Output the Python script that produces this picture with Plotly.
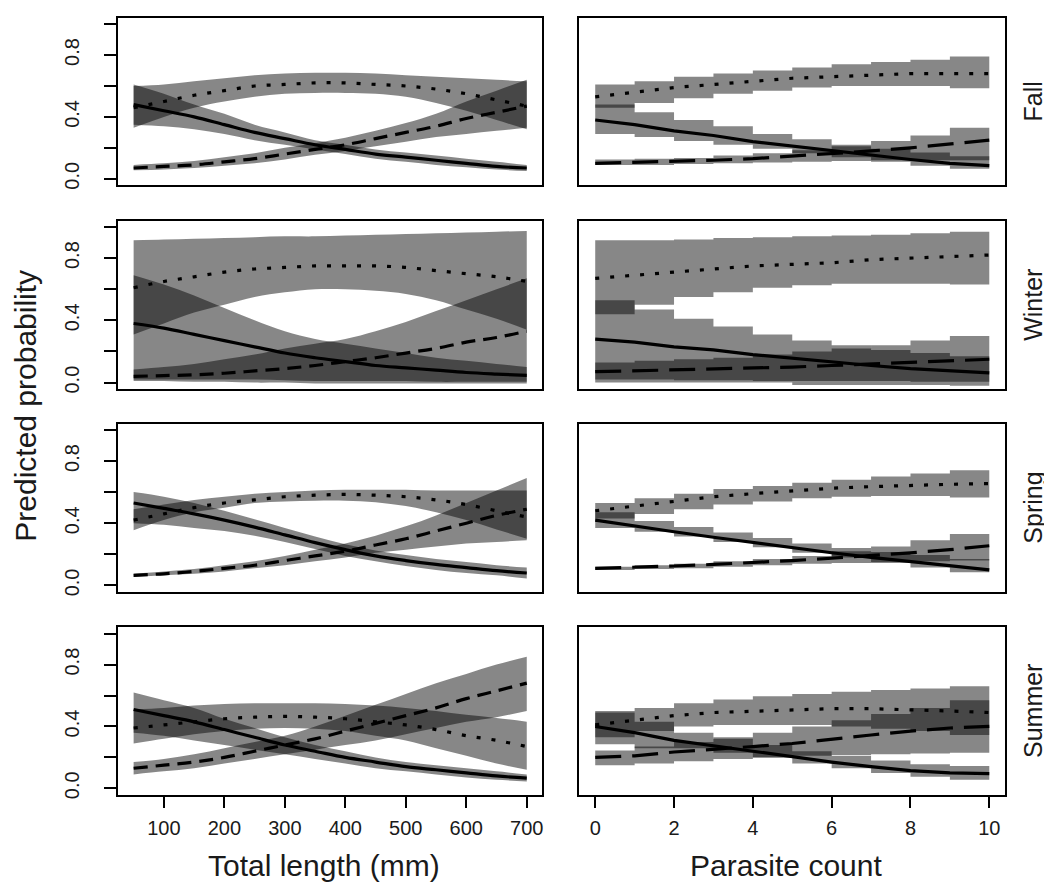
import plotly.graph_objects as go
from plotly.subplots import make_subplots

# ---------------- data ----------------
length_x = [50, 100, 150, 200, 250, 300, 350, 400, 450, 500, 550, 600, 650, 700]
count_x = [0, 1, 2, 3, 4, 5, 6, 7, 8, 9, 10]
length_ticks = [100, 200, 300, 400, 500, 600, 700]
count_ticks = [0, 2, 4, 6, 8, 10]
prob_ticks = [0.0, 0.2, 0.4, 0.6, 0.8, 1.0]
prob_ticktext = ["0.0", "", "0.4", "", "0.8", ""]
seasons = ["Fall", "Winter", "Spring", "Summer"]
x_titles = ["Total length (mm)", "Parasite count"]
y_title = "Predicted probability"

# Fall - total length
fall_len_solid = [0.48, 0.44, 0.40, 0.35, 0.30, 0.26, 0.22, 0.19, 0.16, 0.14, 0.12, 0.10, 0.08, 0.07]
fall_len_solid_lo = [0.35, 0.34, 0.32, 0.29, 0.25, 0.22, 0.19, 0.16, 0.13, 0.11, 0.09, 0.075, 0.06, 0.05]
fall_len_solid_hi = [0.61, 0.55, 0.48, 0.42, 0.35, 0.30, 0.25, 0.22, 0.19, 0.17, 0.15, 0.13, 0.11, 0.09]
fall_len_dash = [0.07, 0.08, 0.09, 0.11, 0.13, 0.16, 0.19, 0.22, 0.26, 0.30, 0.34, 0.39, 0.43, 0.47]
fall_len_dash_lo = [0.055, 0.06, 0.07, 0.085, 0.10, 0.125, 0.155, 0.18, 0.21, 0.24, 0.27, 0.29, 0.31, 0.33]
fall_len_dash_hi = [0.09, 0.10, 0.115, 0.14, 0.165, 0.20, 0.23, 0.265, 0.31, 0.36, 0.42, 0.50, 0.57, 0.64]
fall_len_dot = [0.46, 0.50, 0.54, 0.57, 0.60, 0.61, 0.62, 0.62, 0.61, 0.60, 0.58, 0.55, 0.51, 0.47]
fall_len_dot_lo = [0.33, 0.40, 0.46, 0.50, 0.53, 0.55, 0.555, 0.555, 0.55, 0.53, 0.49, 0.44, 0.38, 0.32]
fall_len_dot_hi = [0.60, 0.61, 0.63, 0.65, 0.67, 0.68, 0.685, 0.685, 0.68, 0.67, 0.66, 0.65, 0.64, 0.63]

# Fall - parasite count
fall_cnt_solid = [0.38, 0.35, 0.31, 0.28, 0.24, 0.21, 0.18, 0.15, 0.125, 0.10, 0.085]
fall_cnt_solid_lo = [0.29, 0.27, 0.245, 0.22, 0.195, 0.165, 0.14, 0.11, 0.085, 0.065, 0.045]
fall_cnt_solid_hi = [0.48, 0.43, 0.38, 0.34, 0.29, 0.255, 0.22, 0.195, 0.17, 0.145, 0.13]
fall_cnt_dash = [0.10, 0.105, 0.11, 0.12, 0.13, 0.145, 0.16, 0.18, 0.20, 0.225, 0.25]
fall_cnt_dash_lo = [0.09, 0.09, 0.095, 0.10, 0.105, 0.11, 0.115, 0.12, 0.12, 0.12, 0.12]
fall_cnt_dash_hi = [0.125, 0.13, 0.135, 0.15, 0.165, 0.185, 0.21, 0.245, 0.28, 0.33, 0.39]
fall_cnt_dot = [0.53, 0.56, 0.59, 0.61, 0.63, 0.65, 0.66, 0.67, 0.68, 0.68, 0.68]
fall_cnt_dot_lo = [0.46, 0.49, 0.52, 0.55, 0.57, 0.59, 0.60, 0.60, 0.60, 0.585, 0.55]
fall_cnt_dot_hi = [0.61, 0.63, 0.66, 0.68, 0.70, 0.72, 0.74, 0.755, 0.77, 0.79, 0.80]

# Winter - total length
winter_len_solid = [0.38, 0.35, 0.31, 0.27, 0.23, 0.19, 0.16, 0.135, 0.11, 0.095, 0.08, 0.065, 0.055, 0.047]
winter_len_solid_lo = [0.02, 0.02, 0.02, 0.02, 0.02, 0.015, 0.01, 0.01, 0.01, 0.01, 0.005, 0.005, 0.005, 0.005]
winter_len_solid_hi = [0.69, 0.63, 0.56, 0.48, 0.40, 0.33, 0.28, 0.25, 0.22, 0.19, 0.16, 0.14, 0.12, 0.10]
winter_len_dash = [0.04, 0.045, 0.05, 0.06, 0.075, 0.09, 0.11, 0.135, 0.16, 0.19, 0.22, 0.26, 0.29, 0.33]
winter_len_dash_lo = [0.01, 0.01, 0.005, 0.005, 0.0, 0.0, -0.005, -0.005, -0.005, -0.005, -0.005, -0.005, -0.005, -0.005]
winter_len_dash_hi = [0.085, 0.10, 0.12, 0.15, 0.18, 0.22, 0.25, 0.28, 0.33, 0.39, 0.46, 0.53, 0.60, 0.67]
winter_len_dot = [0.61, 0.65, 0.68, 0.71, 0.73, 0.74, 0.75, 0.75, 0.75, 0.74, 0.72, 0.70, 0.68, 0.65]
winter_len_dot_lo = [0.31, 0.38, 0.45, 0.50, 0.55, 0.58, 0.60, 0.60, 0.59, 0.57, 0.53, 0.47, 0.41, 0.34]
winter_len_dot_hi = [0.915, 0.92, 0.925, 0.93, 0.935, 0.94, 0.94, 0.945, 0.95, 0.955, 0.96, 0.965, 0.97, 0.975]

# Winter - parasite count
winter_cnt_solid = [0.28, 0.26, 0.23, 0.21, 0.18, 0.155, 0.13, 0.11, 0.09, 0.075, 0.062]
winter_cnt_solid_lo = [0.02, 0.02, 0.015, 0.015, 0.01, 0.01, 0.01, 0.01, 0.005, 0.005, 0.005]
winter_cnt_solid_hi = [0.53, 0.47, 0.41, 0.36, 0.31, 0.27, 0.24, 0.21, 0.19, 0.17, 0.15]
winter_cnt_dash = [0.07, 0.075, 0.08, 0.085, 0.09, 0.10, 0.11, 0.12, 0.13, 0.14, 0.15]
winter_cnt_dash_lo = [0.0, 0.0, 0.0, 0.0, 0.0, -0.015, -0.015, -0.015, -0.015, -0.02, -0.02]
winter_cnt_dash_hi = [0.13, 0.14, 0.15, 0.16, 0.18, 0.20, 0.22, 0.24, 0.27, 0.30, 0.34]
winter_cnt_dot = [0.67, 0.69, 0.71, 0.73, 0.75, 0.76, 0.77, 0.79, 0.80, 0.81, 0.82]
winter_cnt_dot_lo = [0.44, 0.50, 0.55, 0.58, 0.61, 0.625, 0.635, 0.635, 0.635, 0.63, 0.63]
winter_cnt_dot_hi = [0.915, 0.915, 0.92, 0.93, 0.935, 0.94, 0.945, 0.95, 0.96, 0.97, 0.975]

# Spring - total length
spring_len_solid = [0.53, 0.495, 0.46, 0.42, 0.375, 0.325, 0.275, 0.23, 0.19, 0.16, 0.135, 0.115, 0.095, 0.08]
spring_len_solid_lo = [0.40, 0.39, 0.37, 0.35, 0.32, 0.28, 0.235, 0.19, 0.155, 0.125, 0.10, 0.08, 0.065, 0.045]
spring_len_solid_hi = [0.60, 0.57, 0.53, 0.48, 0.425, 0.37, 0.315, 0.265, 0.225, 0.195, 0.17, 0.15, 0.13, 0.115]
spring_len_dash = [0.065, 0.075, 0.09, 0.11, 0.13, 0.16, 0.19, 0.22, 0.26, 0.30, 0.35, 0.40, 0.45, 0.49]
spring_len_dash_lo = [0.055, 0.065, 0.075, 0.09, 0.11, 0.13, 0.155, 0.18, 0.21, 0.23, 0.25, 0.27, 0.28, 0.29]
spring_len_dash_hi = [0.075, 0.09, 0.105, 0.13, 0.155, 0.19, 0.23, 0.27, 0.32, 0.38, 0.45, 0.53, 0.61, 0.69]
spring_len_dot = [0.42, 0.46, 0.50, 0.53, 0.55, 0.57, 0.58, 0.585, 0.58, 0.57, 0.55, 0.52, 0.48, 0.44]
spring_len_dot_lo = [0.355, 0.42, 0.47, 0.50, 0.53, 0.54, 0.545, 0.545, 0.535, 0.51, 0.47, 0.42, 0.36, 0.30]
spring_len_dot_hi = [0.49, 0.52, 0.55, 0.57, 0.59, 0.60, 0.61, 0.615, 0.615, 0.615, 0.61, 0.61, 0.61, 0.61]

# Spring - parasite count
spring_cnt_solid = [0.42, 0.38, 0.345, 0.31, 0.275, 0.24, 0.21, 0.18, 0.155, 0.125, 0.10]
spring_cnt_solid_lo = [0.37, 0.345, 0.315, 0.28, 0.245, 0.21, 0.18, 0.145, 0.115, 0.085, 0.05]
spring_cnt_solid_hi = [0.47, 0.415, 0.375, 0.34, 0.305, 0.27, 0.24, 0.215, 0.195, 0.17, 0.15]
spring_cnt_dash = [0.11, 0.115, 0.125, 0.135, 0.145, 0.16, 0.175, 0.19, 0.21, 0.23, 0.255]
spring_cnt_dash_lo = [0.10, 0.105, 0.11, 0.12, 0.13, 0.14, 0.145, 0.15, 0.155, 0.16, 0.16]
spring_cnt_dash_hi = [0.12, 0.13, 0.14, 0.155, 0.17, 0.19, 0.22, 0.25, 0.29, 0.33, 0.375]
spring_cnt_dot = [0.48, 0.51, 0.54, 0.57, 0.59, 0.61, 0.625, 0.635, 0.645, 0.65, 0.655]
spring_cnt_dot_lo = [0.43, 0.46, 0.49, 0.52, 0.54, 0.56, 0.57, 0.575, 0.575, 0.565, 0.55]
spring_cnt_dot_hi = [0.53, 0.56, 0.59, 0.62, 0.64, 0.66, 0.68, 0.70, 0.72, 0.74, 0.76]

# Summer - total length
summer_len_solid = [0.51, 0.47, 0.43, 0.38, 0.33, 0.28, 0.24, 0.20, 0.17, 0.14, 0.12, 0.10, 0.08, 0.066]
summer_len_solid_lo = [0.36, 0.34, 0.31, 0.28, 0.25, 0.22, 0.19, 0.16, 0.13, 0.11, 0.09, 0.07, 0.055, 0.045]
summer_len_solid_hi = [0.62, 0.57, 0.52, 0.45, 0.39, 0.33, 0.28, 0.24, 0.20, 0.17, 0.15, 0.13, 0.11, 0.09]
summer_len_dash = [0.13, 0.15, 0.17, 0.20, 0.24, 0.28, 0.32, 0.37, 0.42, 0.47, 0.52, 0.58, 0.63, 0.68]
summer_len_dash_lo = [0.09, 0.11, 0.13, 0.16, 0.19, 0.22, 0.25, 0.28, 0.31, 0.35, 0.39, 0.43, 0.46, 0.50]
summer_len_dash_hi = [0.17, 0.19, 0.22, 0.26, 0.30, 0.34, 0.40, 0.47, 0.54, 0.61, 0.68, 0.74, 0.80, 0.85]
summer_len_dot = [0.39, 0.41, 0.43, 0.45, 0.46, 0.465, 0.46, 0.45, 0.43, 0.41, 0.38, 0.34, 0.31, 0.27]
summer_len_dot_lo = [0.29, 0.32, 0.35, 0.37, 0.385, 0.39, 0.385, 0.37, 0.34, 0.31, 0.26, 0.21, 0.16, 0.12]
summer_len_dot_hi = [0.51, 0.52, 0.535, 0.545, 0.55, 0.55, 0.55, 0.545, 0.535, 0.52, 0.50, 0.475, 0.455, 0.43]

# Summer - parasite count
summer_cnt_solid = [0.40, 0.36, 0.31, 0.275, 0.24, 0.20, 0.17, 0.14, 0.115, 0.10, 0.095]
summer_cnt_solid_lo = [0.285, 0.26, 0.26, 0.23, 0.20, 0.16, 0.13, 0.10, 0.075, 0.055, 0.05]
summer_cnt_solid_hi = [0.49, 0.43, 0.36, 0.32, 0.28, 0.24, 0.21, 0.18, 0.155, 0.145, 0.135]
summer_cnt_dash = [0.20, 0.21, 0.235, 0.25, 0.27, 0.29, 0.32, 0.345, 0.37, 0.39, 0.40]
summer_cnt_dash_lo = [0.15, 0.16, 0.175, 0.19, 0.20, 0.21, 0.215, 0.22, 0.225, 0.23, 0.24]
summer_cnt_dash_hi = [0.245, 0.27, 0.30, 0.33, 0.36, 0.40, 0.44, 0.48, 0.52, 0.57, 0.62]
summer_cnt_dot = [0.41, 0.44, 0.47, 0.49, 0.50, 0.51, 0.515, 0.515, 0.51, 0.50, 0.49]
summer_cnt_dot_lo = [0.33, 0.37, 0.40, 0.41, 0.41, 0.41, 0.40, 0.385, 0.37, 0.345, 0.32]
summer_cnt_dot_hi = [0.50, 0.52, 0.55, 0.575, 0.595, 0.61, 0.625, 0.635, 0.645, 0.66, 0.67]

panels = [
    [
        (fall_len_solid, fall_len_solid_lo, fall_len_solid_hi, fall_len_dash, fall_len_dash_lo, fall_len_dash_hi, fall_len_dot, fall_len_dot_lo, fall_len_dot_hi),
        (fall_cnt_solid, fall_cnt_solid_lo, fall_cnt_solid_hi, fall_cnt_dash, fall_cnt_dash_lo, fall_cnt_dash_hi, fall_cnt_dot, fall_cnt_dot_lo, fall_cnt_dot_hi),
    ],
    [
        (winter_len_solid, winter_len_solid_lo, winter_len_solid_hi, winter_len_dash, winter_len_dash_lo, winter_len_dash_hi, winter_len_dot, winter_len_dot_lo, winter_len_dot_hi),
        (winter_cnt_solid, winter_cnt_solid_lo, winter_cnt_solid_hi, winter_cnt_dash, winter_cnt_dash_lo, winter_cnt_dash_hi, winter_cnt_dot, winter_cnt_dot_lo, winter_cnt_dot_hi),
    ],
    [
        (spring_len_solid, spring_len_solid_lo, spring_len_solid_hi, spring_len_dash, spring_len_dash_lo, spring_len_dash_hi, spring_len_dot, spring_len_dot_lo, spring_len_dot_hi),
        (spring_cnt_solid, spring_cnt_solid_lo, spring_cnt_solid_hi, spring_cnt_dash, spring_cnt_dash_lo, spring_cnt_dash_hi, spring_cnt_dot, spring_cnt_dot_lo, spring_cnt_dot_hi),
    ],
    [
        (summer_len_solid, summer_len_solid_lo, summer_len_solid_hi, summer_len_dash, summer_len_dash_lo, summer_len_dash_hi, summer_len_dot, summer_len_dot_lo, summer_len_dot_hi),
        (summer_cnt_solid, summer_cnt_solid_lo, summer_cnt_solid_hi, summer_cnt_dash, summer_cnt_dash_lo, summer_cnt_dash_hi, summer_cnt_dot, summer_cnt_dot_lo, summer_cnt_dot_hi),
    ],
]

# ---------------- layout geometry (pixels) ----------------
W, H = 1052, 884
col_px = [(110, 535), (572, 998)]
row_px = [(10, 178), (214, 383), (418, 587), (623, 791)]
FONT = "Liberation Sans, Arial, sans-serif"
TXT = "#1a1a1a"
BAND = "rgba(0,0,0,0.47)"

fig = make_subplots(rows=4, cols=2)

for r in range(4):
    for c in range(2):
        xs = length_x if c == 0 else count_x
        band_shape = "spline" if c == 0 else "hv"
        line_shape = "spline" if c == 0 else "linear"
        dash_pat = "14px,8px" if c == 0 else "26px,11px"
        (s, slo, shi, d, dlo, dhi, o, olo, ohi) = panels[r][c]
        for lo, hi in ((slo, shi), (dlo, dhi), (olo, ohi)):
            fig.add_trace(go.Scatter(x=xs, y=lo, mode="lines", line=dict(width=0, shape=band_shape),
                                     showlegend=False, hoverinfo="skip"), row=r + 1, col=c + 1)
            fig.add_trace(go.Scatter(x=xs, y=hi, mode="lines", line=dict(width=0, shape=band_shape),
                                     fill="tonexty", fillcolor=BAND,
                                     showlegend=False, hoverinfo="skip"), row=r + 1, col=c + 1)
        for ys, dash in ((s, "solid"), (d, dash_pat), (o, "4px,11px")):
            fig.add_trace(go.Scatter(x=xs, y=ys, mode="lines",
                                     line=dict(color="black", width=3.2, dash=dash, shape=line_shape),
                                     showlegend=False, hoverinfo="skip"), row=r + 1, col=c + 1)

        x0, x1 = col_px[c]
        y0, y1 = row_px[r]
        xa = dict(domain=[x0 / W, x1 / W], range=[24, 726] if c == 0 else [-0.4, 10.4],
                  showline=True, linecolor="black", linewidth=1.5, mirror=True,
                  showgrid=False, zeroline=False)
        if r == 3:
            xa.update(ticks="outside", ticklen=12, tickwidth=1.5, tickcolor="black",
                      tickvals=length_ticks if c == 0 else count_ticks,
                      tickfont=dict(family=FONT, size=20, color=TXT),
                      ticklabelstandoff=3)
        else:
            xa.update(showticklabels=False, ticks="")
        ya = dict(domain=[1 - y1 / H, 1 - y0 / H], range=[-0.04, 1.04],
                  showline=True, linecolor="black", linewidth=1.5, mirror=True,
                  showgrid=False, zeroline=False)
        if c == 0:
            ya.update(ticks="outside", ticklen=12, tickwidth=1.5, tickcolor="black",
                      tickvals=prob_ticks, ticktext=prob_ticktext, tickangle=-90,
                      tickfont=dict(family=FONT, size=20, color=TXT),
                      ticklabelstandoff=17)
        else:
            ya.update(showticklabels=False, ticks="")
        fig.update_xaxes(xa, row=r + 1, col=c + 1)
        fig.update_yaxes(ya, row=r + 1, col=c + 1)

annotations = []
for c, t in enumerate(x_titles):
    x0, x1 = col_px[c]
    annotations.append(dict(text=t, x=(x0 + x1) / 2 / W - 6 / W, y=1 - 862 / H, xref="paper", yref="paper",
                            showarrow=False, xanchor="center", yanchor="middle",
                            font=dict(family=FONT, size=30, color=TXT)))
annotations.append(dict(text=y_title, x=18 / W, y=1 - 400 / H, xref="paper", yref="paper",
                        showarrow=False, textangle=-90, xanchor="center", yanchor="middle",
                        font=dict(family=FONT, size=30, color=TXT)))
for r, s in enumerate(seasons):
    y0, y1 = row_px[r]
    annotations.append(dict(text=s, x=1026 / W, y=1 - (y0 + y1) / 2 / H, xref="paper", yref="paper",
                            showarrow=False, textangle=-90, xanchor="center", yanchor="middle",
                            font=dict(family=FONT, size=25, color=TXT)))

fig.update_layout(width=W, height=H, autosize=False, margin=dict(l=0, r=0, t=0, b=0),
                  paper_bgcolor="white", plot_bgcolor="white", showlegend=False,
                  annotations=annotations)

fig.write_html("out.html")
